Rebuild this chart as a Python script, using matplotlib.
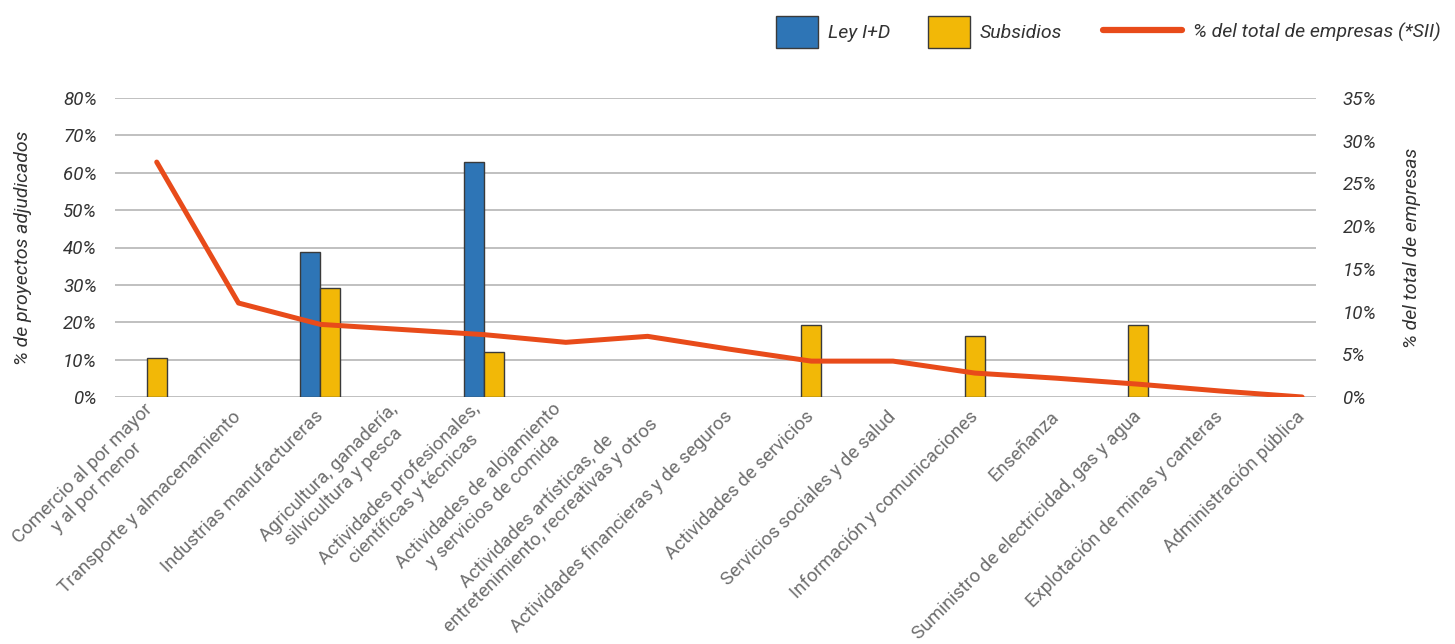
import numpy as np
import matplotlib
matplotlib.use("Agg")
import matplotlib.pyplot as plt
from matplotlib.lines import Line2D
from matplotlib.patches import Patch
from matplotlib.ticker import FuncFormatter

plt.rcParams['font.family'] = ['Roboto', 'DejaVu Sans']

# data
categorias = [
    "Comercio al por mayor\ny al por menor",
    "Transporte y almacenamiento",
    "Industrias manufactureras",
    "Agricultura, ganadería,\nsilvicultura y pesca",
    "Actividades profesionales,\ncientíficas y técnicas",
    "Actividades de alojamiento\ny servicios de comida",
    "Actividades artísticas, de\nentretenimiento, recreativas y otros",
    "Actividades financieras y de seguros",
    "Actividades de servicios",
    "Servicios sociales y de salud",
    "Información y comunicaciones",
    "Enseñanza",
    "Suministro de electricidad, gas y agua",
    "Explotación de minas y canteras",
    "Administración pública",
]
ley_id = [0, 0, 38.8, 0, 62.9, 0, 0, 0, 0, 0, 0, 0, 0, 0, 0]
subsidios = [10.4, 0, 29.2, 0, 12.0, 0, 0, 0, 19.3, 0, 16.3, 0, 19.3, 0, 0]
total_empresas = [27.5, 11.0, 8.5, 7.9, 7.3, 6.4, 7.1, 5.6, 4.2, 4.2, 2.8, 2.2, 1.5, 0.7, 0.0]

c_blue = '#2e75b6'
c_yellow = '#f2b807'
c_line = '#e84b1a'
c_text = '#333333'

fig = plt.figure(figsize=(14.55, 6.44), dpi=100)
ax = fig.add_axes([115/1455, 1 - 397/644, 1201/1455, 299/644])

x = np.arange(len(categorias))
w = 0.245
series = [(ley_id, c_blue), (subsidios, c_yellow)]
# bars of a category are centred on its position, only non-zero ones take a slot
for i in x:
    present = [(vals[i], col) for vals, col in series if vals[i] > 0]
    n = len(present)
    for k, (v, col) in enumerate(present):
        ax.bar(i + (k - (n - 1) / 2) * w, v, width=w, color=col,
               edgecolor='#3a3a3a', linewidth=1.0, zorder=3)

ax.set_xlim(-0.51, 14.17)
ax.set_ylim(0, 80)
ax.set_yticks(np.arange(0, 81, 10))
ax.yaxis.set_major_formatter(FuncFormatter(lambda v, p: f"{v:.0f}%"))
ax.grid(axis='y', color='#b5b5b5', linewidth=1.2, zorder=0)
ax.set_axisbelow(True)
for s in ax.spines.values():
    s.set_visible(False)
ax.tick_params(axis='y', length=0, pad=13, labelsize=13.5, labelcolor=c_text)
for lab in ax.get_yticklabels():
    lab.set_fontstyle('italic')

ax.set_xticks(x)
ax.set_xticklabels(categorias, rotation=45, ha='right', va='center',
                   rotation_mode='anchor', multialignment='center',
                   fontsize=13.5, fontweight='normal', color='#6e6e6e')
ax.tick_params(axis='x', length=0, pad=12)

ax2 = ax.twinx()
ax2.plot(x, total_empresas, color=c_line, linewidth=3.6,
         solid_capstyle='round', solid_joinstyle='round', zorder=4)
ax2.set_ylim(0, 35)
ax2.set_yticks(np.arange(0, 36, 5))
ax2.yaxis.set_major_formatter(FuncFormatter(lambda v, p: f"{v:.0f}%"))
for s in ax2.spines.values():
    s.set_visible(False)
ax2.tick_params(axis='y', length=0, pad=19, labelsize=13.5, labelcolor=c_text)
for lab in ax2.get_yticklabels():
    lab.set_fontstyle('italic')

fig.text(23/1455, 1 - 248/644, "% de proyectos adjudicados", rotation=90,
         ha='center', va='center', fontsize=14, fontstyle='italic', color=c_text)
fig.text(1412/1455, 1 - 248/644, "% del total de empresas", rotation=90,
         ha='center', va='center', fontsize=14, fontstyle='italic', color=c_text)

# legend
h_bars = [Patch(facecolor=c_blue, edgecolor='#3a3a3a', linewidth=1.0),
          Patch(facecolor=c_yellow, edgecolor='#3a3a3a', linewidth=1.0)]
leg1 = fig.legend(h_bars, ["Ley I+D", "Subsidios"], loc='center left',
                  bbox_to_anchor=(776/1455, 1 - 32/644), ncol=2, frameon=False,
                  borderpad=0, borderaxespad=0, handlelength=2.15, handleheight=2.1,
                  handletextpad=0.5, columnspacing=1.95,
                  prop={'size': 14, 'style': 'italic'})
for t in leg1.get_texts():
    t.set_color(c_text)
h_line = [Line2D([0], [0], color=c_line, linewidth=4.5, solid_capstyle='round')]
leg2 = fig.legend(h_line, ["% del total de empresas (*SII)"], loc='center left',
                  bbox_to_anchor=(1103/1455, 1 - 32/644), frameon=False,
                  borderpad=0, borderaxespad=0, handlelength=4.05,
                  handletextpad=0.6, prop={'size': 14, 'style': 'italic'})
for t in leg2.get_texts():
    t.set_color(c_text)

fig.savefig("out.png", dpi=100)
